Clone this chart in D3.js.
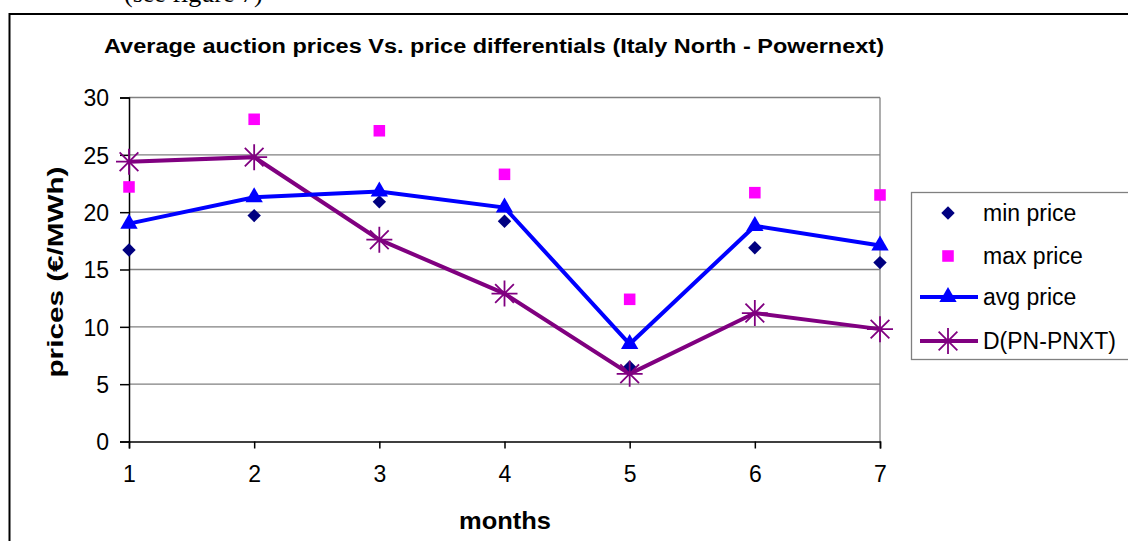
<!DOCTYPE html>
<html><head><meta charset="utf-8">
<script src="https://cdn.jsdelivr.net/npm/d3@7"></script>
<style>html,body{margin:0;padding:0;background:#fff;overflow:hidden}</style>
</head><body>
<svg id="c" width="1128" height="541"></svg>
<script>
const months = [1, 2, 3, 4, 5, 6, 7];
const minPrice = [16.7, 19.7, 20.9, 19.2, 6.5, 16.9, 15.6];
const maxPrice = [22.2, 28.1, 27.1, 23.3, 12.4, 21.7, 21.5];
const avgPrice = [19.0, 21.3, 21.8, 20.4, 8.5, 18.8, 17.1];
const diffPN = [24.4, 24.8, 17.6, 12.9, 5.9, 11.2, 9.8];
const yTicks = [0, 5, 10, 15, 20, 25, 30];
const seriesNames = ["min price", "max price", "avg price", "D(PN-PNXT)"];
const titleText = "Average auction prices Vs. price differentials (Italy North - Powernext)";

const svg = d3.select("#c");
const FONT = "'Liberation Sans', Arial, sans-serif";

function fit(sel, w) {
  const n = sel.node();
  const cur = n.getComputedTextLength();
  if (Math.abs(cur - w) > 2) sel.attr("textLength", w).attr("lengthAdjust", "spacingAndGlyphs");
}

// partial text at top (cut off by the picture's edge, as in the reference)
svg.append("text").attr("x", 124).attr("y", 2).attr("font-family", "'Liberation Serif', serif")
  .attr("font-size", 26).text("(see figure 7)");

// outer frame
svg.append("rect").attr("x", 9.5).attr("y", 14).attr("width", 1130).attr("height", 560)
  .attr("fill", "#fff").attr("stroke", "#000").attr("stroke-width", 2);

const x = d3.scaleLinear().domain([1, 7]).range([129, 880]);
const y = d3.scaleLinear().domain([0, 30]).range([441.5, 97.5]);

// gridlines
svg.append("g").selectAll("line").data(yTicks.filter(d => d > 0)).join("line")
  .attr("x1", x(1)).attr("x2", x(7)).attr("y1", d => y(d)).attr("y2", d => y(d))
  .attr("stroke", "#808080").attr("stroke-width", 1.3);
// right border
svg.append("line").attr("x1", x(7)).attr("x2", x(7)).attr("y1", y(30)).attr("y2", y(0))
  .attr("stroke", "#808080").attr("stroke-width", 1.3);

// axes
const yAxis = svg.append("g").attr("transform", `translate(${x(1)},0)`)
  .call(d3.axisLeft(y).tickValues(yTicks).tickSize(9).tickPadding(11).tickFormat(d3.format("d")));
const xAxis = svg.append("g").attr("transform", `translate(0,${y(0)})`)
  .call(d3.axisBottom(x).tickValues(months).tickSize(7).tickPadding(17).tickFormat(d3.format("d")));
[yAxis, xAxis].forEach(a => {
  a.select(".domain").attr("stroke", "#000").attr("stroke-width", 1.5);
  a.selectAll(".tick line").attr("stroke", "#000").attr("stroke-width", 1.5);
  a.selectAll("text").attr("font-family", FONT).attr("font-size", 23).attr("fill", "#000");
});
yAxis.selectAll("text").attr("dy", "0.36em");

// title
const t = svg.append("text").attr("x", 494).attr("y", 53).attr("text-anchor", "middle")
  .attr("font-family", FONT).attr("font-weight", "bold").attr("font-size", 20).text(titleText);
fit(t, 780);

// axis titles
const xt = svg.append("text").attr("x", 505).attr("y", 529).attr("text-anchor", "middle")
  .attr("font-family", FONT).attr("font-weight", "bold").attr("font-size", 24).text("months");
fit(xt, 92);
const yt = svg.append("text").attr("transform", "translate(63,272) rotate(-90)").attr("text-anchor", "middle")
  .attr("font-family", FONT).attr("font-weight", "bold").attr("font-size", 22).text("prices (€/MWh)");
fit(yt, 211);

// markers
const diamond = d3.symbol().type(d3.symbolDiamond2).size(115);
const square = d3.symbol().type(d3.symbolSquare2).size(170);
const tri = d3.symbol().type(d3.symbolTriangle).size(130);
function asterisk(s) {
  const r = s / 2, d = r * 0.72;
  return `M0,${-r}L0,${r}M${-d},${-d}L${d},${d}M${-d},${d}L${d},${-d}M${-r},0L${r},0`;
}
const line = d3.line().x((d, i) => x(months[i])).y(d => y(d));

// D line
svg.append("path").attr("d", line(diffPN)).attr("fill", "none").attr("stroke", "#800080").attr("stroke-width", 4);
// avg line
svg.append("path").attr("d", line(avgPrice)).attr("fill", "none").attr("stroke", "#0000FF").attr("stroke-width", 4);

svg.append("g").selectAll("path").data(minPrice).join("path")
  .attr("transform", (d, i) => `translate(${x(months[i])},${y(d)})`).attr("d", diamond).attr("fill", "#000080");
svg.append("g").selectAll("path").data(maxPrice).join("path")
  .attr("transform", (d, i) => `translate(${x(months[i])},${y(d)})`).attr("d", square).attr("fill", "#FF00FF");
svg.append("g").selectAll("path").data(avgPrice).join("path")
  .attr("transform", (d, i) => `translate(${x(months[i])},${y(d)})`).attr("d", tri).attr("fill", "#0000FF");
svg.append("g").selectAll("path").data(diffPN).join("path")
  .attr("transform", (d, i) => `translate(${x(months[i])},${y(d)})`).attr("d", asterisk(26))
  .attr("fill", "none").attr("stroke", "#800080").attr("stroke-width", 1.8);

// legend
const lg = svg.append("g");
lg.append("rect").attr("x", 911.5).attr("y", 192.5).attr("width", 300).attr("height", 167)
  .attr("fill", "#fff").attr("stroke", "#808080").attr("stroke-width", 1.3);
const ly = [213, 256, 297, 341];
seriesNames.forEach((nm, i) => {
  const g = lg.append("g").attr("transform", `translate(0,${ly[i]})`);
  if (i >= 2) g.append("line").attr("x1", 920).attr("x2", 978).attr("y1", 0).attr("y2", 0)
    .attr("stroke", i === 2 ? "#0000FF" : "#800080").attr("stroke-width", 4);
  const m = g.append("path").attr("transform", "translate(948,0)");
  if (i === 0) m.attr("d", diamond).attr("fill", "#000080");
  if (i === 1) m.attr("d", square).attr("fill", "#FF00FF");
  if (i === 2) m.attr("d", tri).attr("fill", "#0000FF");
  if (i === 3) m.attr("d", asterisk(26)).attr("fill", "none").attr("stroke", "#800080").attr("stroke-width", 1.8);
  g.append("text").attr("x", 983).attr("y", 0).attr("dy", "0.36em")
    .attr("font-family", FONT).attr("font-size", 23).text(nm);
});
</script>
</body></html>
